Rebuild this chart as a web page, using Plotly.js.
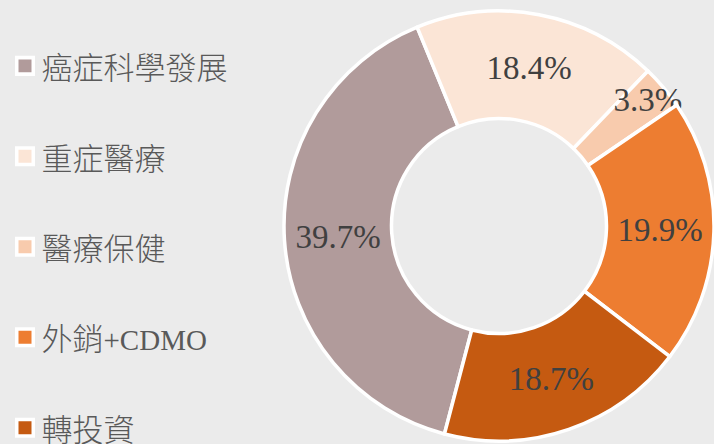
<!DOCTYPE html>
<html>
<head>
<meta charset="utf-8">
<script src="https://cdn.plot.ly/plotly-3.0.1.min.js"></script>
<style>
  html, body { margin: 0; padding: 0; background: #ebebeb; }
  #chart { width: 714px; height: 444px; }
  path.legendpie {
    transform: translate(23.5px, 0px) scale(1.375) !important;
    stroke-width: 2.55px !important;
  }
</style>
</head>
<body>
<div id="chart"></div>
<script>
const categories = ['癌症科學發展', '重症醫療', '醫療保健', '外銷+CDMO', '轉投資'];
const shares = [39.7, 18.4, 3.3, 19.9, 18.7];
const sliceColors = ['#b19b9b', '#fbe5d6', '#f8cbad', '#ed7d31', '#c55a11'];

const legendLabels = categories.map(c =>
  '<span style="font-size:31px">' +
  c.replace(/([A-Za-z+]+)/g, '<span style="font-size:29px">$1</span>') +
  '</span><br>\u00a0');

const trace = {
  type: 'pie',
  labels: legendLabels,
  values: shares,
  hole: 0.5,
  sort: false,
  direction: 'clockwise',
  rotation: -165.3,
  marker: { colors: sliceColors, line: { color: '#ffffff', width: 3.5 } },
  texttemplate: '%{percent:.1%}',
  textposition: 'inside',
  insidetextorientation: 'horizontal',
  textfont: { family: '"Liberation Serif", serif', size: 33, color: '#404040' },
  hoverinfo: 'none',
  domain: { x: [284 / 714, 1.0], y: [1 - 441 / 444, 1 - 11 / 444] }
};

const layout = {
  width: 714,
  height: 444,
  margin: { l: 0, r: 0, t: 0, b: 0, autoexpand: false },
  paper_bgcolor: '#ebebeb',
  plot_bgcolor: '#ebebeb',
  showlegend: true,
  uniformtext: { minsize: 33, mode: 'show' },
  legend: {
    x: 1.5 / 714,
    xanchor: 'left',
    y: 1 - 37.5 / 444,
    yanchor: 'top',
    valign: 'top',
    bgcolor: 'rgba(0,0,0,0)',
    borderwidth: 0,
    maxheight: 2000,
    font: { family: '"Liberation Serif", "Noto Sans CJK TC", sans-serif', size: 33.65, color: '#595959', weight: 300 }
  }
};

Plotly.newPlot('chart', [trace], layout, { displayModeBar: false, staticPlot: true });
</script>
</body>
</html>
